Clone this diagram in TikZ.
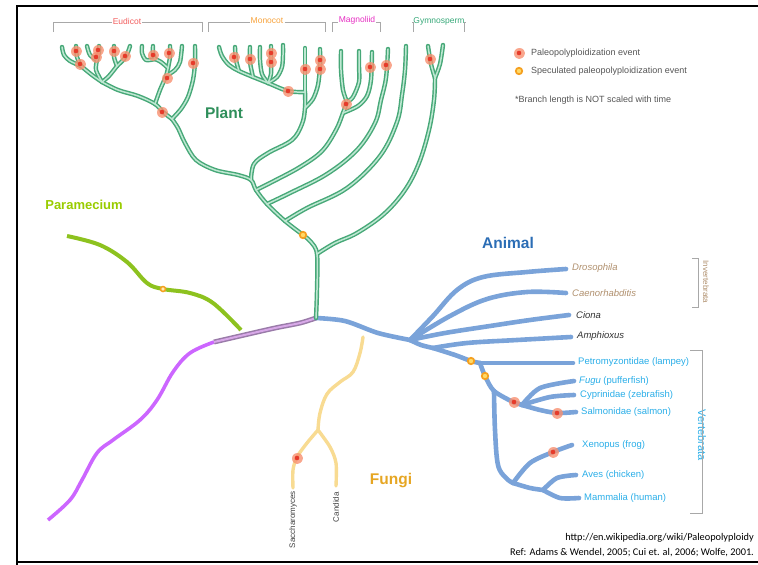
\documentclass[tikz,border=0pt]{standalone}
\usepackage{fontspec}
\setmainfont{Liberation Sans}
\newfontfamily\reffont{Carlito}
\usetikzlibrary{shadows,fadings}

% palette
\definecolor{plantgreen}{HTML}{47A878}
\definecolor{plantlight}{HTML}{BEE8D2}
\definecolor{animalblue}{HTML}{7AA3D9}
\definecolor{fungiyel}{HTML}{F8DB92}
\definecolor{paragreen}{HTML}{8DC21F}
\definecolor{purpleline}{HTML}{CC66FF}
\definecolor{mixdark}{HTML}{9A7BA9}
\definecolor{mixlight}{HTML}{D8A8E8}
\definecolor{dotred}{HTML}{E63B2A}
\definecolor{dothalo}{HTML}{F79070}
\definecolor{dotorange}{HTML}{F5A020}
\definecolor{dotyellow}{HTML}{FFD966}
\definecolor{invtan}{HTML}{B0906E}
\definecolor{vertblue}{HTML}{2AAEE8}
\definecolor{bracketgray}{HTML}{A8A8A8}
\definecolor{planttitle}{HTML}{2F8F5B}
\definecolor{animaltitle}{HTML}{2B6DB5}
\definecolor{fungititle}{HTML}{E6A623}
\definecolor{paratitle}{HTML}{99CC00}
\definecolor{eudicotc}{HTML}{F25D5D}
\definecolor{monocotc}{HTML}{F7A23B}
\definecolor{magnoc}{HTML}{E62EC2}
\definecolor{gymnoc}{HTML}{36A878}
\definecolor{legendgray}{HTML}{555555}

\tikzset{
  plantout/.style={draw=plantgreen, line width=4.4pt, line cap=round, line join=round},
  plantin/.style={draw=plantlight, line width=1.5pt, line cap=round, line join=round},
  animalbr/.style={draw=animalblue, line width=4.6pt, line cap=round, line join=round},
  fungibr/.style={draw=fungiyel, line width=3.4pt, line cap=round, line join=round},
  parabr/.style={draw=paragreen, line width=4pt},
  purplebr/.style={draw=purpleline, line width=3.6pt},
  mixbr/.style={draw=mixdark, line width=1.5pt, double=mixlight, double distance=2pt},
  paleo/.style={circle, inner sep=0pt, minimum size=4.6pt, fill=dotred,
    circular glow={fill=dothalo, shadow scale=2.6, opacity=0.8}},
  specdot/.style={circle, inner sep=0pt, minimum size=6.5pt, fill=dotyellow,
    draw=dotorange, line width=1.7pt},
  bracket/.style={draw=bracketgray, line width=1pt},
  cladelabel/.style={font=\fontsize{8.5}{9}\selectfont, inner sep=1pt},
  taxon/.style={anchor=west, inner sep=0pt, font=\fontsize{9.5}{11}\selectfont},
  title/.style={font=\fontsize{15.5}{17}\selectfont\bfseries},
  legendtext/.style={anchor=west, inner sep=0pt, text=legendgray, font=\fontsize{9}{10}\selectfont}
}

% every plant branch, drawn once per pass (dark rim, then light core)
\newcommand\PlantBranches[1]{%
  % trunk up to the eudicots
  \draw[#1] plot[smooth, tension=0.55] coordinates {(R) (317,290) (j4) (311,242) (o1) (j3) (j2) (j1) (jm) (238,175) (215,170) (196,160) (185,143) (178,128) (eb)};
  % gymnosperm
  \draw[#1] plot[smooth, tension=0.6] coordinates {(j4) (335,243) (357,233) (384,214) (405,190) (419,163) (429,130) (434,100) (gf)};
  \draw[#1] plot[smooth] coordinates {(gf) (431,64) (gl)};
  \draw[#1] plot[smooth] coordinates {(gf) (440,64) (gr)};
  % two single lineages
  \draw[#1] plot[smooth, tension=0.6] coordinates {(j3) (307,208) (347,188) (380,156) (397,122) (402,95) (405,70) (b3t)};
  \draw[#1] plot[smooth, tension=0.6] coordinates {(j2) (290,193) (327,174) (357,150) (375,123) (381,100) (386,78) (b2t)};
  % magnoliids
  \draw[#1] plot[smooth, tension=0.6] coordinates {(j1) (272,182) (300,167) (322,151) (336,130) (mgs) (mgf)};
  \draw[#1] plot[smooth] coordinates {(mgf) (343,90) (341,70) (ml)};
  \draw[#1] plot[smooth] coordinates {(mgf) (353,97) (359,82) (359,66) (mr)};
  \draw[#1] plot[smooth] coordinates {(mgs) (358,106) (367,96) (371,80) (m3t)};
  % monocots
  \draw[#1] plot[smooth, tension=0.6] coordinates {(jm) (254,164) (268,153) (292,140) (302,124) (mr1) (mj)};
  \draw[#1] plot[smooth] coordinates {(mj) (305,70) (mt)};
  \draw[#1] plot[smooth] coordinates {(mr1) (313,99) (318,85) (320,66) (mt2)};
  \draw[#1] plot[smooth, tension=0.6] coordinates {(mj) (288,91) (h3) (h2) (h1) (229,65) (222,56) (mc)};
  \draw[#1] plot[smooth] coordinates {(h1) (236,60) (235,47)};
  \draw[#1] plot[smooth] coordinates {(h2) (250,62) (250,47)};
  \draw[#1] plot[smooth] coordinates {(h3) (262,74) (260,60) (260,47)};
  \draw[#1] plot[smooth] coordinates {(h3) (271,74) (271,60) (271,46)};
  \draw[#1] plot[smooth] coordinates {(h3) (277,77) (282,67) (283,55) (283,45)};
  % eudicots
  \draw[#1] plot[smooth] coordinates {(eb) (181,109) (188,97) (193,80) (195,63) (er)};
  \draw[#1] plot[smooth, tension=0.6] coordinates {(eb) (ed) (em) (138,96) (118,90) (lj)};
  \draw[#1] plot[smooth] coordinates {(em) (160,90) (mjr) (mfk)};
  \draw[#1] plot[smooth] coordinates {(mfk) (170,57) (170,46)};
  \draw[#1] plot[smooth] coordinates {(mfk) (161,62) (ml2)};
  \draw[#1] plot[smooth] coordinates {(ml2) (153,53) (153,46)};
  \draw[#1] plot[smooth] coordinates {(ml2) (146,60) (142,53) (142,46)};
  \draw[#1] plot[smooth] coordinates {(mjr) (175,70) (180,62) (182,46)};
  \draw[#1] plot[smooth] coordinates {(lj) (92,75) (fa)};
  \draw[#1] plot[smooth] coordinates {(fa) (70,61) (64,55) (62,47)};
  \draw[#1] plot[smooth] coordinates {(fa) (77,57) (76,46)};
  \draw[#1] plot[smooth] coordinates {(lj) (96,70) (fb)};
  \draw[#1] plot[smooth] coordinates {(fb) (99,52) (99,46)};
  \draw[#1] plot[smooth] coordinates {(fb) (90,55) (87,46)};
  \draw[#1] plot[smooth] coordinates {(lj) (109,76) (fc)};
  \draw[#1] plot[smooth] coordinates {(fc) (114,57) (114,46)};
  \draw[#1] plot[smooth] coordinates {(fc) (124,59) (128,52) (130,46)};
}

\begin{document}
\begin{tikzpicture}[x=1pt, y=-1pt]
\useasboundingbox (0,0) rectangle (758,565);

% frame
\draw[line width=2.2pt] (758,6) -- (17,6) -- (17,565);
\draw[line width=2.2pt] (17,562) -- (758,562);

% ---------- branch points ----------
% root and plant trunk
\coordinate (R) at (316,318);
\coordinate (j4) at (317,254);
\coordinate (o1) at (303,235);
\coordinate (j3) at (285,221);
\coordinate (j2) at (267,204);
\coordinate (j1) at (256,190);
\coordinate (jm) at (251,180);
\coordinate (eb) at (172,119);
\coordinate (gf) at (435,78);
\coordinate (gl) at (428,46);
\coordinate (gr) at (443,45);
\coordinate (b3t) at (406,46);
\coordinate (b2t) at (388,49);
\coordinate (mgs) at (343,113);
\coordinate (mgf) at (347,102);
\coordinate (ml) at (341,51);
\coordinate (mr) at (359,51);
\coordinate (m3t) at (372,52);
\coordinate (mr1) at (305,108);
\coordinate (mj) at (305,92);
\coordinate (mt) at (305,48);
\coordinate (mt2) at (320,49);
\coordinate (mc) at (219,47);
\coordinate (h1) at (239,71);
\coordinate (h2) at (253,77);
\coordinate (h3) at (268,83);
\coordinate (er) at (195,46);
\coordinate (ed) at (163,112);
\coordinate (em) at (155,104);
\coordinate (lj) at (102,82);
\coordinate (mjr) at (166,76);
\coordinate (mfk) at (168,68);
\coordinate (ml2) at (155,59);
\coordinate (fa) at (81,66);
\coordinate (fb) at (97,60);
\coordinate (fc) at (117,66);
% animals
\coordinate (af) at (410,340);
\coordinate (a2) at (433,348);
\coordinate (dro) at (566,269);
\coordinate (cae) at (566,293);
\coordinate (cio) at (569,315);
\coordinate (amp) at (571,337);
\coordinate (ld) at (471,361);
\coordinate (lmj) at (480,363);
\coordinate (lam) at (573,363);
\coordinate (ld2) at (485,376);
\coordinate (vj) at (494,391);
\coordinate (tj) at (513,402);
\coordinate (tf2) at (522,405);
\coordinate (fug) at (574,381);
\coordinate (cyp) at (574,395);
\coordinate (sd) at (557,413);
\coordinate (sal) at (576,412);
\coordinate (tp) at (513,483);
\coordinate (xd) at (553,452);
\coordinate (xen) at (572,445);
\coordinate (tf) at (543,490);
\coordinate (ave) at (576,475);
\coordinate (mam) at (579,498);
% fungi
\coordinate (ft) at (363,337);
\coordinate (fj) at (318,430);
\coordinate (fd) at (297,457);
\coordinate (sac) at (293,488);
\coordinate (can) at (336,486);
% paramecium and the purple lineage
\coordinate (pst) at (67,236);
\coordinate (pdot) at (163,289);
\coordinate (pend) at (241,330);
\coordinate (pu0) at (48,520);
\coordinate (pm) at (214,342);

% ---------- purple lineage and shared stem ----------
\draw[purplebr] plot[smooth, tension=0.6] coordinates {(pu0) (70,500) (82,480) (97,453) (113,440) (140,420) (157,400) (173,372) (190,353) (pm)};
\draw[mixbr] plot[smooth] coordinates {(pm) (240,336) (275,328) (300,323) (R)};

% ---------- Paramecium ----------
\draw[parabr] plot[smooth, tension=0.6] coordinates {(pst) (100,245) (127,262) (147,283) (pdot) (190,293) (213,303) (pend)};

% ---------- Fungi ----------
\draw[fungibr] plot[smooth, tension=0.6] coordinates {(ft) (360,353) (353,372) (340,382) (327,394) (320,413) (fj)};
\draw[fungibr] plot[smooth] coordinates {(fj) (307,443) (fd) (293,470) (sac)};
\draw[fungibr] plot[smooth] coordinates {(fj) (330,447) (336,463) (can)};

% ---------- Animals ----------
\draw[animalbr] plot[smooth] coordinates {(R) (345,321) (378,333) (af)};
\draw[animalbr] plot[smooth, tension=0.6] coordinates {(af) (433,316) (457,290) (483,277) (527,272) (dro)};
\draw[animalbr] plot[smooth, tension=0.6] coordinates {(af) (450,316) (487,299) (527,292) (cae)};
\draw[animalbr] plot[smooth, tension=0.6] coordinates {(af) (445,333) (490,326) (530,320) (cio)};
\draw[animalbr] plot[smooth] coordinates {(af) (421,345) (a2)};
\draw[animalbr] plot[smooth, tension=0.6] coordinates {(a2) (467,343) (517,340) (amp)};
\draw[animalbr] plot[smooth] coordinates {(a2) (455,355) (ld) (lmj)};
\draw[animalbr] plot[smooth] coordinates {(lmj) (533,363) (lam)};
\draw[animalbr] plot[smooth] coordinates {(lmj) (ld2) (vj) (tj)};
\draw[animalbr] (tj) -- (tf2);
\draw[animalbr] plot[smooth] coordinates {(tf2) (540,388) (fug)};
\draw[animalbr] plot[smooth] coordinates {(tf2) (550,397) (cyp)};
\draw[animalbr] plot[smooth] coordinates {(tf2) (540,410) (sd) (sal)};
\draw[animalbr] plot[smooth, tension=0.6] coordinates {(vj) (495,430) (498,465) (506,478) (tp)};
\draw[animalbr] plot[smooth] coordinates {(tp) (530,463) (xd) (xen)};
\draw[animalbr] plot[smooth] coordinates {(tp) (530,488) (tf)};
\draw[animalbr] plot[smooth] coordinates {(tf) (557,478) (ave)};
\draw[animalbr] plot[smooth] coordinates {(tf) (560,498) (mam)};

% ---------- Plants ----------
\PlantBranches{plantout}
\PlantBranches{plantin}

% ---------- polyploidy events ----------
\foreach \x/\y [count=\i] in {76/51, 80/64, 98/50, 96/57, 114/51, 125/56, 153/55, 169/53, 167/78, 193/63, 162/112,
  234/57, 250/59, 271/53, 271/62, 288/91, 305/69, 320/60, 320/69,
  346/104, 370/67, 386/65, 430/59,
  514/402, 553/452, 557/413, 297/458}
  \node[paleo] (ev\i) at (\x,\y) {};
\node[specdot] (sp1) at (o1) {};
\node[specdot] (sp2) at (ld) {};
\node[specdot] (sp3) at (ld2) {};
\node[specdot, minimum size=5pt, line width=1.5pt, fill=dotyellow!50] (sp4) at (pdot) {};

% ---------- clade headers ----------
\node[cladelabel, text=eudicotc] (eud) at (127,21) {Eudicot};
\draw[bracket] (53,32) -- (53,22) -- (eud.west |- 0,22);
\draw[bracket] (eud.east |- 0,22) -- (202,22) -- (202,32);
\node[cladelabel, text=monocotc] (mon) at (267,21) {Monocot};
\draw[bracket] (208,32) -- (208,22) -- (mon.west |- 0,22);
\draw[bracket] (mon.east |- 0,22) -- (325,22) -- (325,32);
\node[cladelabel, text=magnoc] (mag) at (357,20) {Magnoliid};
\draw[bracket] (332,32) -- (332,22) -- (mag.west |- 0,22);
\draw[bracket] (mag.east |- 0,22) -- (380,22) -- (380,32);
\node[cladelabel, text=gymnoc] (gym) at (439,21) {Gymnosperm};
\draw[bracket] (413,32) -- (413,22) -- (gym.west |- 0,22);
\draw[bracket] (gym.east |- 0,22) -- (464,22) -- (464,32);

% ---------- legend ----------
\node[paleo] (lg1) at (519,53) {};
\node[legendtext] (lgt1) at (531,53) {Paleopolyploidization event};
\node[specdot] (lg2) at (519,71) {};
\node[legendtext] (lgt2) at (531,71) {Speculated paleopolyploidization event};
\node[legendtext] (lgt3) at (515,100) {*Branch length is NOT scaled with time};

% ---------- group titles ----------
\node[title, text=planttitle] (tplant) at (224,113) {Plant};
\node[title, text=animaltitle] (tanimal) at (508,243) {Animal};
\node[title, text=fungititle] (tfungi) at (391,481) {Fungi};
\node[font=\fontsize{13}{15}\selectfont\bfseries, text=paratitle] (tpara) at (84,205) {Paramecium};

% ---------- animal taxa ----------
\node[taxon, text=invtan] (lDro) at (572,268) {\itshape Drosophila};
\node[taxon, text=invtan] (lCae) at (572,293) {\itshape Caenorhabditis};
\node[taxon, text=black!80] (lCio) at (576,315) {\itshape Ciona};
\node[taxon, text=black!80] (lAmp) at (577,336) {\itshape Amphioxus};
\node[taxon, text=vertblue] (lLam) at (578,362) {Petromyzontidae (lampey)};
\node[taxon, text=vertblue] (lFug) at (579,381) {\textit{Fugu} (pufferfish)};
\node[taxon, text=vertblue] (lCyp) at (580,395) {Cyprinidae (zebrafish)};
\node[taxon, text=vertblue] (lSal) at (581,412) {Salmonidae (salmon)};
\node[taxon, text=vertblue] (lXen) at (582,445) {Xenopus (frog)};
\node[taxon, text=vertblue] (lAve) at (582,475) {Aves (chicken)};
\node[taxon, text=vertblue] (lMam) at (584,498) {Mammalia (human)};

% ---------- invertebrate / vertebrate brackets ----------
\draw[bracket] (692,258) -- (698,258) -- (698,307) -- (692,307);
\node[rotate=-90, text=invtan, font=\fontsize{8}{9}\selectfont, inner sep=0pt] (linv) at (706,282) {Invertebrata};
\node[rotate=-90, text=vertblue, font=\fontsize{11}{12}\selectfont, inner sep=1pt] (lvert) at (702,435) {Vertebrata};
\draw[bracket] (690,350) -- (702,350) -- (lvert.east);
\draw[bracket] (lvert.west) -- (702,513) -- (690,513);

% ---------- fungal taxa ----------
\node[rotate=90, anchor=east, inner sep=0pt, text=black!75, font=\fontsize{8}{9}\selectfont] (lSac) at (293,491) {Saccharomyces};
\node[rotate=90, anchor=east, inner sep=0pt, text=black!75, font=\fontsize{8}{9}\selectfont] (lCan) at (336,492) {Candida};

% ---------- source ----------
\node[anchor=east, inner sep=0pt, font=\reffont\fontsize{10.3}{12}\selectfont] (src1) at (754,538) {http://en.wikipedia.org/wiki/Paleopolyploidy};
\node[anchor=east, inner sep=0pt, font=\reffont\fontsize{10.3}{12}\selectfont] (src2) at (754,553) {Ref: Adams \& Wendel, 2005; Cui et. al, 2006; Wolfe, 2001.};

\end{tikzpicture}
\end{document}
